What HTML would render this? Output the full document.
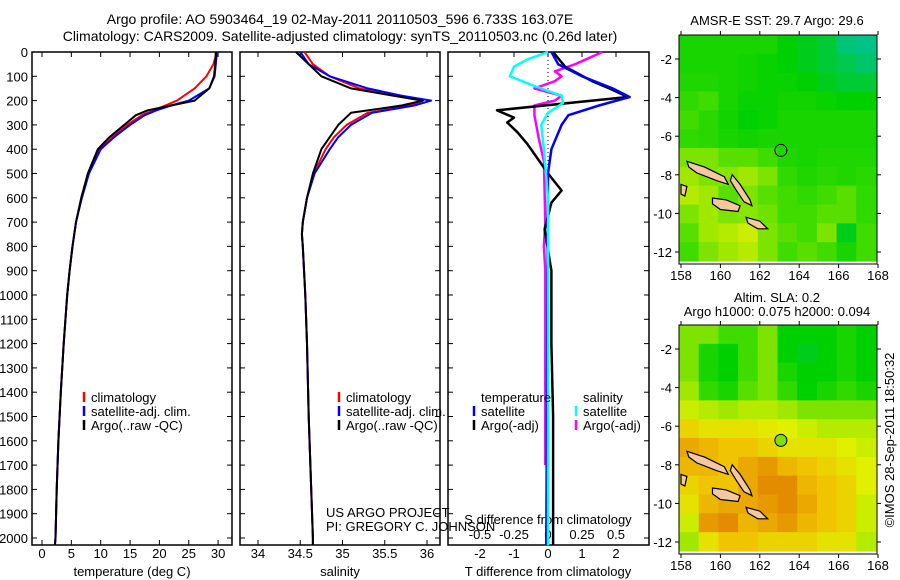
<!DOCTYPE html>
<html><head><meta charset="utf-8">
<style>
html,body{margin:0;padding:0;background:#fff;}
svg{display:block;font-family:"Liberation Sans",sans-serif;}
text{font-size:13px;fill:#000;}
</style></head>
<body>
<svg id="fig" width="900" height="580" viewBox="0 0 900 580">
<text x="340" y="24" text-anchor="middle" style="font-size:14px">Argo profile: AO 5903464_19 02-May-2011 20110503_596 6.733S 163.07E</text>
<text x="340" y="41" text-anchor="middle" style="font-size:14px">Climatology: CARS2009. Satellite-adjusted climatology: synTS_20110503.nc (0.26d later)</text>
<text x="777" y="25" text-anchor="middle">AMSR-E SST: 29.7 Argo: 29.6</text>
<text x="777" y="302" text-anchor="middle">Altim. SLA: 0.2</text>
<text x="777" y="316" text-anchor="middle">Argo h1000: 0.075 h2000: 0.094</text>
<text transform="translate(894,440) rotate(-90)" text-anchor="middle">©IMOS 28-Sep-2011 18:50:32</text>
<text x="326" y="517">US ARGO PROJECT</text>
<text x="326" y="531">PI: GREGORY C. JOHNSON</text>
</svg>
<script>
// ---- data ----
const depthT = [0,50,100,150,200,220,240,260,300,350,400,500,600,700,800,900,1000,1200,1400,1600,1800,2000,2030];
const tempArgo = [29.6,29.5,29.3,28.5,26,22,18,16,14,11.5,9.5,7.8,6.7,5.8,5.2,4.7,4.3,3.7,3.2,2.8,2.5,2.3,2.2];
const tempClim = [29.8,29.2,28,26,23,21,19,17,14.5,12,9.8,7.9,6.7,5.8,5.2,4.7,4.3,3.7,3.2,2.8,2.5,2.3,2.2];
const tempSat  = [29.8,29.6,29.4,28.5,25,22,19.5,17.5,15,12.3,10,8,6.8,5.8,5.2,4.7,4.3,3.7,3.2,2.8,2.5,2.3,2.2];
const depthS = [0,50,100,150,180,200,220,250,300,350,400,500,600,700,750,800,1000,1200,1500,2000,2030];
const salArgo = [34.45,34.6,34.75,35.1,35.6,35.95,35.7,35.1,34.95,34.85,34.75,34.65,34.58,34.53,34.52,34.53,34.56,34.58,34.6,34.65,34.65];
const salSat  = [34.5,34.6,34.85,35.3,35.7,36.05,35.85,35.35,35.1,34.95,34.85,34.67,34.58,34.53,34.52,34.53,34.56,34.58,34.6,34.65,34.65];
const salClim = [34.55,34.65,34.85,35.2,35.6,35.95,35.8,35.3,35.05,34.9,34.8,34.66,34.58,34.53,34.52,34.53,34.56,34.58,34.6,34.65,34.65];
const depthDT = [0,60,120,150,185,240,270,290,330,380,440,500,570,620,730,900,1200,1500,2000,2030];
const dTArgo = [0.15,0.5,1.3,1.8,2.35,-1.5,-1.0,-1.2,-0.9,-0.6,-0.3,0,0.4,0.1,-0.1,0.1,0.1,0.15,0.15,0.15];
const depthDTs = [0,50,100,150,185,220,260,300,400,500,2030];
const dTSat = [0.1,0.3,1.0,1.9,2.4,1.5,0.6,0.4,0.1,0.0,-0.05];
const depthDS = [0,30,60,100,140,180,210,250,300,400,600,2030];
const dSSat = [0,-0.15,-0.25,-0.28,-0.1,0.1,0.11,0.0,-0.05,-0.03,0,0];
const depthDSa = [0,50,80,100,120,150,180,200,220,260,350,450,700,800,900,1700];
const dSArgo = [0.4,0.2,0.05,0.1,0.05,-0.1,0.1,0.05,-0.1,-0.1,-0.07,-0.03,-0.02,-0.03,-0.02,-0.02];
const depthTicks = [0,100,200,300,400,500,600,700,800,900,1000,1100,1200,1300,1400,1500,1600,1700,1800,1900,2000];
const tempTicks = [0,5,10,15,20,25,30];
const salTicks = [34,34.5,35,35.5,36];
const dTTicks = [-2,-1,0,1,2];
const dSTicks = [-0.5,-0.25,0,0.25,0.5];
const latTicks = [-2,-4,-6,-8,-10,-12];
const lonTicks = [158,160,162,164,166,168];
const sstGrid = [
[.45,.45,.45,.45,.45,.42,.40,.38,.33,.32],
[.45,.45,.45,.44,.43,.42,.40,.38,.36,.34],
[.46,.46,.45,.44,.43,.43,.42,.40,.38,.38],
[.48,.50,.45,.43,.43,.44,.44,.43,.42,.42],
[.50,.47,.44,.42,.43,.45,.45,.45,.45,.45],
[.48,.47,.45,.44,.45,.45,.45,.45,.45,.45],
[.55,.55,.52,.52,.50,.46,.45,.46,.46,.46],
[.58,.55,.56,.58,.55,.48,.46,.47,.46,.47],
[.60,.58,.52,.55,.52,.50,.48,.50,.52,.48],
[.55,.58,.55,.56,.54,.50,.50,.52,.52,.48],
[.52,.58,.60,.62,.55,.52,.50,.55,.40,.50],
[.50,.55,.58,.60,.55,.50,.52,.50,.45,.50]];
const slaGrid = [
[.55,.55,.5,.5,.55,.42,.42,.42,.45,.42],
[.55,.45,.42,.5,.55,.42,.40,.42,.45,.42],
[.55,.45,.42,.5,.55,.45,.42,.42,.45,.42],
[.58,.48,.45,.52,.55,.48,.42,.45,.48,.45],
[.62,.6,.58,.6,.6,.58,.55,.55,.55,.55],
[.68,.66,.66,.66,.65,.64,.62,.6,.6,.6],
[.74,.72,.70,.70,.68,.66,.66,.66,.64,.62],
[.72,.72,.70,.74,.76,.72,.70,.68,.66,.64],
[.68,.70,.70,.74,.78,.78,.72,.70,.68,.64],
[.66,.72,.74,.74,.76,.80,.74,.70,.68,.62],
[.62,.76,.78,.72,.74,.76,.72,.70,.68,.62],
[.58,.66,.70,.70,.68,.68,.68,.66,.66,.60]];
const islands = [
[[158.3,-7.3],[159.2,-7.6],[160.2,-8.1],[160.4,-8.5],[159.8,-8.3],[158.8,-7.9],[158.4,-7.6]],
[[160.6,-8.0],[161.0,-8.5],[161.5,-9.3],[161.6,-9.6],[161.2,-9.4],[160.8,-8.8],[160.5,-8.3]],
[[159.6,-9.2],[160.3,-9.3],[161.0,-9.6],[160.9,-9.9],[160.0,-9.8],[159.6,-9.5]],
[[161.3,-10.2],[162.0,-10.4],[162.4,-10.8],[161.9,-10.8],[161.4,-10.5]],
[[158.0,-8.5],[158.3,-8.6],[158.2,-9.1],[158.0,-9.0]]];
const argoPos = [163.07,-6.733];

// ---- helpers ----
const svg = document.getElementById('fig');
const NS = 'http://www.w3.org/2000/svg';
function mk(tag, attrs){const e=document.createElementNS(NS,tag);for(const k in attrs)e.setAttribute(k,attrs[k]);svg.appendChild(e);return e;}
const Y0=52, YS=0.243, YB=545;
const yD = d => Y0 + d*YS;
const xT = t => 42 + t*5.87;
const xS = s => 258 + (s-34)*84.5;
const xDT = v => 548 + v*34;
const xDS = v => 548 + v*136;
const panels = [[32,232],[240,440],[448,649]];

function line(depths, vals, fx, color, w, name){
  const pts = depths.map((d,i)=>fx(vals[i]).toFixed(1)+','+yD(d).toFixed(1)).join(' ');
  const p = mk('polyline',{points:pts,fill:'none',stroke:color,'stroke-width':w,'stroke-linejoin':'round'});
  
  
}
function txt(x,y,s,anchor,name){
  const t=mk('text',{x:x,y:y,'text-anchor':anchor||'start'});t.textContent=s;
  
  
  return t;
}

panels.forEach((p,i)=>{
  const r = mk('rect',{x:p[0],y:Y0,width:p[1]-p[0],height:YB-Y0,fill:'none',stroke:'#000','stroke-width':1.5});
  
  
  depthTicks.forEach(d=>{
    mk('line',{x1:p[0],x2:p[0]+5,y1:yD(d),y2:yD(d),stroke:'#000'});
    mk('line',{x1:p[1]-5,x2:p[1],y1:yD(d),y2:yD(d),stroke:'#000'});
  });
});
depthTicks.forEach(d=>{ txt(28,yD(d)+5,String(d),'end','depth-tick-label'); });
tempTicks.forEach(t=>{ mk('line',{x1:xT(t),x2:xT(t),y1:Y0,y2:Y0+5,stroke:'#000'}); mk('line',{x1:xT(t),x2:xT(t),y1:YB-5,y2:YB,stroke:'#000'}); txt(xT(t),558,String(t),'middle','temperature-tick-label'); });
salTicks.forEach(s=>{ mk('line',{x1:xS(s),x2:xS(s),y1:Y0,y2:Y0+5,stroke:'#000'}); mk('line',{x1:xS(s),x2:xS(s),y1:YB-5,y2:YB,stroke:'#000'}); txt(xS(s),558,String(s),'middle','salinity-tick-label'); });
dTTicks.forEach(v=>{ mk('line',{x1:xDT(v),x2:xDT(v),y1:Y0,y2:Y0+5,stroke:'#000'}); txt(xDT(v),558,String(v),'middle','t-diff-tick-label'); });
dSTicks.forEach(v=>{ txt(xDS(v),539,String(v),'middle','s-diff-tick-label'); });
txt(132,576,'temperature (deg C)','middle','temperature-axis-title');
txt(340,576,'salinity','middle','salinity-axis-title');
txt(548,576,'T difference from climatology','middle','t-diff-axis-title');
txt(548,524,'S difference from climatology','middle','s-diff-axis-title');
const z = mk('line',{x1:548,x2:548,y1:Y0,y2:YB,stroke:'#000','stroke-dasharray':'1,3'});



line(depthT,tempClim,xT,'#f00',2,'temp-climatology-line');
line(depthT,tempSat,xT,'#00f',2,'temp-satellite-line');
line(depthT,tempArgo,xT,'#000',2,'temp-argo-line');
line(depthS,salClim,xS,'#f00',2,'sal-climatology-line');
line(depthS,salSat,xS,'#00f',2,'sal-satellite-line');
line(depthS,salArgo,xS,'#000',2,'sal-argo-line');
line(depthDSa,dSArgo,xDS,'#f0f',2.5,'s-diff-argo-line');
line(depthDT,dTArgo,xDT,'#000',2.5,'t-diff-argo-line');
line(depthDTs,dTSat,xDT,'#00f',2.5,'t-diff-satellite-line');
line(depthDS,dSSat,xDS,'#0ff',2.5,'s-diff-satellite-line');

function legItem(x,y,color,label,name){
  const m=mk('line',{x1:x,x2:x,y1:y-10,y2:y,stroke:color,'stroke-width':2.5});
  
  
  txt(x+7,y,label,'start',name);
}
[[84,'#f00','climatology'],[84,'#00f','satellite-adj. clim.'],[84,'#000','Argo(..raw -QC)']].forEach((l,i)=>legItem(l[0],402+i*14,l[1],l[2],'temp-legend-entry'));
[[339,'#f00','climatology'],[339,'#00f','satellite-adj. clim.'],[339,'#000','Argo(..raw -QC)']].forEach((l,i)=>legItem(l[0],402+i*14,l[1],l[2],'sal-legend-entry'));
txt(481,402,'temperature','start','diff-legend-temperature-header');
txt(583,402,'salinity','start','diff-legend-salinity-header');
legItem(474,416,'#00f','satellite','diff-legend-t-satellite');
legItem(474,430,'#000','Argo(-adj)','diff-legend-t-argo');
legItem(576,416,'#0ff','satellite','diff-legend-s-satellite');
legItem(576,430,'#f0f','Argo(-adj)','diff-legend-s-argo');

const stops=[[0.3,[0,192,160]],[0.42,[0,208,0]],[0.5,[64,220,0]],[0.58,[160,232,0]],[0.64,[224,240,0]],[0.7,[240,196,0]],[0.78,[228,140,0]]];
function cmap(v){
  if(v<=stops[0][0])return 'rgb('+stops[0][1]+')';
  for(let i=1;i<stops.length;i++){ if(v<=stops[i][0]){const a=stops[i-1],b=stops[i],f=(v-a[0])/(b[0]-a[0]);return 'rgb('+a[1].map((c,k)=>Math.round(c+(b[1][k]-c)*f)).join(',')+')';} }
  return 'rgb('+stops[stops.length-1][1]+')';
}
function drawMap(top,bottom,grid,fillCircle,name){
  const x0=679,x1=877;
  const lonX = lon => 681 + (lon-158)*19.7;
  const latY = lat => (top+24) + (-2-lat)*19.3;
  const rows=grid.length, cols=grid[0].length;
  const cw=(x1-1-x0)/cols, ch=(bottom-3-top)/rows;
  grid.forEach((row,r)=>row.forEach((v,c)=>{
    const cell=mk('rect',{x:x0+c*cw,y:top+r*ch,width:cw+0.6,height:ch+0.6,fill:cmap(v)});
    
    
  }));
  islands.forEach(isl=>{
    const p=mk('polygon',{points:isl.map(q=>lonX(q[0]).toFixed(1)+','+latY(q[1]).toFixed(1)).join(' '),fill:'#f5c8a0',stroke:'#000','stroke-width':1.2});
    
    
  });
  const c=mk('circle',{cx:lonX(argoPos[0]),cy:latY(argoPos[1]),r:6,fill:fillCircle,stroke:'#000','stroke-width':1});
  
  
  const f=mk('rect',{x:x0,y:top,width:x1-x0,height:bottom-top,fill:'none',stroke:'#000','stroke-width':1});
  
  
  latTicks.forEach(l=>{
    mk('line',{x1:x0-4,x2:x0,y1:latY(l),y2:latY(l),stroke:'#000'});
    mk('line',{x1:x1,x2:x1+4,y1:latY(l),y2:latY(l),stroke:'#000'});
    txt(672,latY(l)+5,String(l),'end',name+'-lat-label');
  });
  lonTicks.forEach(l=>{
    mk('line',{x1:lonX(l),x2:lonX(l),y1:top-4,y2:top,stroke:'#000'});
    mk('line',{x1:lonX(l),x2:lonX(l),y1:bottom,y2:bottom+4,stroke:'#000'});
    txt(lonX(l),bottom+16,String(l),'middle',name+'-lon-label');
  });
}
drawMap(35,264,sstGrid,'none','sst-map');
drawMap(325,554,slaGrid,'#7ee000','sla-map');
</script>
</body></html>
